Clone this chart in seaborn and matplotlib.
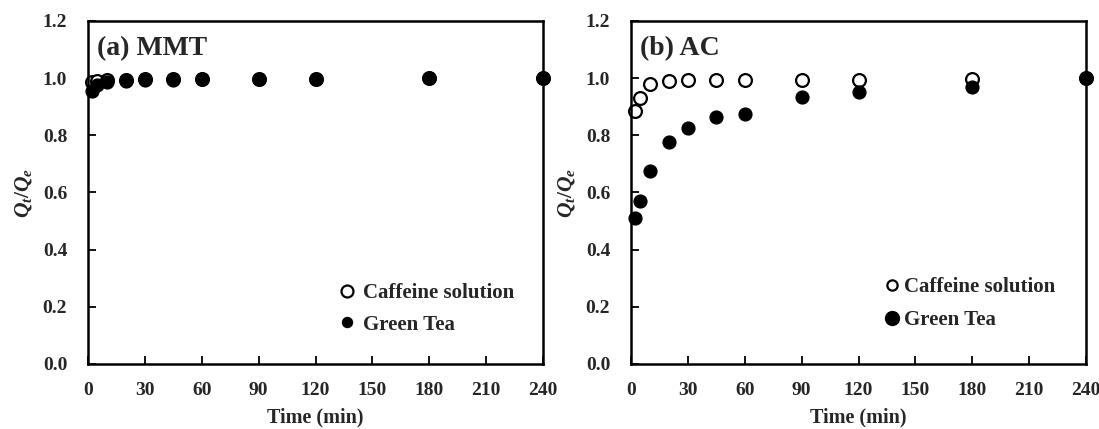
import matplotlib
matplotlib.use("Agg")
import matplotlib.pyplot as plt
import seaborn as sns
import pandas as pd
from matplotlib.lines import Line2D

time_min = [2, 5, 10, 20, 30, 45, 60, 90, 120, 180, 240]
mmt_caffeine = [0.985, 0.99, 0.993, 0.995, 0.996, 0.996, 0.997, 0.998, 0.998, 0.999, 1.0]
mmt_greentea = [0.955, 0.975, 0.985, 0.99, 0.993, 0.995, 0.996, 0.997, 0.998, 0.999, 1.0]
ac_caffeine = [0.885, 0.93, 0.98, 0.99, 0.995, 0.995, 0.995, 0.995, 0.995, 0.997, 1.0]
ac_greentea = [0.51, 0.572, 0.676, 0.776, 0.825, 0.865, 0.874, 0.933, 0.95, 0.97, 1.0]
panel_titles = ["(a) MMT", "(b) AC"]
series_names = ["Caffeine solution", "Green Tea"]
x_ticks = [0, 30, 60, 90, 120, 150, 180, 210, 240]
y_ticks = [0.0, 0.2, 0.4, 0.6, 0.8, 1.0, 1.2]

sns.set_theme(style="white")
plt.rcParams['font.family'] = ['Liberation Serif', 'DejaVu Serif']
plt.rcParams['font.weight'] = 'bold'
plt.rcParams['mathtext.fontset'] = 'custom'
plt.rcParams['mathtext.rm'] = 'Liberation Serif:bold'
plt.rcParams['mathtext.it'] = 'Liberation Serif:bold:italic'

W, H = 1099, 429
fig = plt.figure(figsize=(W / 100, H / 100), dpi=100)
ax1 = fig.add_axes([88 / W, 1 - 364 / H, 455 / W, 343 / H])
ax2 = fig.add_axes([631 / W, 1 - 364 / H, 455 / W, 343 / H])

panels = [(ax1, mmt_caffeine, mmt_greentea), (ax2, ac_caffeine, ac_greentea)]
legend_sizes = [(8.6, 7.2), (7.4, 10.0)]
legend_anchor = [(0.552, 0.236), (0.556, 0.254)]
legend_spacing = [0.55, 0.62]
legend_textpad = [0.35, 0.15]

for i, (ax, caf, gt) in enumerate(panels):
    df = pd.DataFrame({"t": time_min * 2,
                       "q": caf + gt,
                       "s": [series_names[0]] * len(time_min) + [series_names[1]] * len(time_min)})
    sns.scatterplot(data=df[df.s == series_names[1]], x="t", y="q", ax=ax,
                    color="black", edgecolor="black", s=85, linewidth=1.0, zorder=3,
                    legend=False, clip_on=False)
    sns.scatterplot(data=df[df.s == series_names[0]], x="t", y="q", ax=ax,
                    facecolor="white", edgecolor="black", s=85, linewidth=1.6, zorder=2,
                    legend=False, clip_on=False)
    ax.set_xlim(0, 240)
    ax.set_ylim(0, 1.2)
    ax.set_xticks(x_ticks)
    ax.set_yticks(y_ticks)
    ax.set_xticklabels([str(v) for v in x_ticks], fontsize=14, fontweight='bold')
    ax.set_yticklabels([f"{v:.1f}" for v in y_ticks], fontsize=14, fontweight='bold')
    ax.tick_params(axis='both', direction='in', length=6, width=1.3, color='black',
                   bottom=True, left=True, top=False, right=False)
    ax.tick_params(axis='x', pad=13)
    ax.tick_params(axis='y', pad=15)
    ax.set_xlabel("Time (min)", fontsize=14.5, fontweight='bold')
    ax.xaxis.set_label_coords(0.5, -0.128)
    ax.set_ylabel(r"$Q_t/Q_e$", fontsize=15.5)
    ax.yaxis.set_label_coords(-0.119, 0.5)
    for sp in ax.spines.values():
        sp.set_color('black')
        sp.set_linewidth(1.8)
    ax.text(0.02, 0.955, panel_titles[i], transform=ax.transAxes, fontsize=20,
            fontweight='bold', va='top', ha='left')
    s_open, s_fill = legend_sizes[i]
    handles = [Line2D([], [], ls='none', marker='o', markersize=s_open, markerfacecolor='white',
                      markeredgecolor='black', markeredgewidth=1.6),
               Line2D([], [], ls='none', marker='o', markersize=s_fill, markerfacecolor='black',
                      markeredgecolor='black')]
    ax.legend(handles, series_names, loc='upper left', bbox_to_anchor=legend_anchor[i],
              frameon=False, borderpad=0, borderaxespad=0,
              handletextpad=legend_textpad[i], handlelength=0.8,
              labelspacing=legend_spacing[i],
              prop={'family': 'Liberation Serif', 'weight': 'bold', 'size': 15})

fig.savefig("out.png", dpi=100)
